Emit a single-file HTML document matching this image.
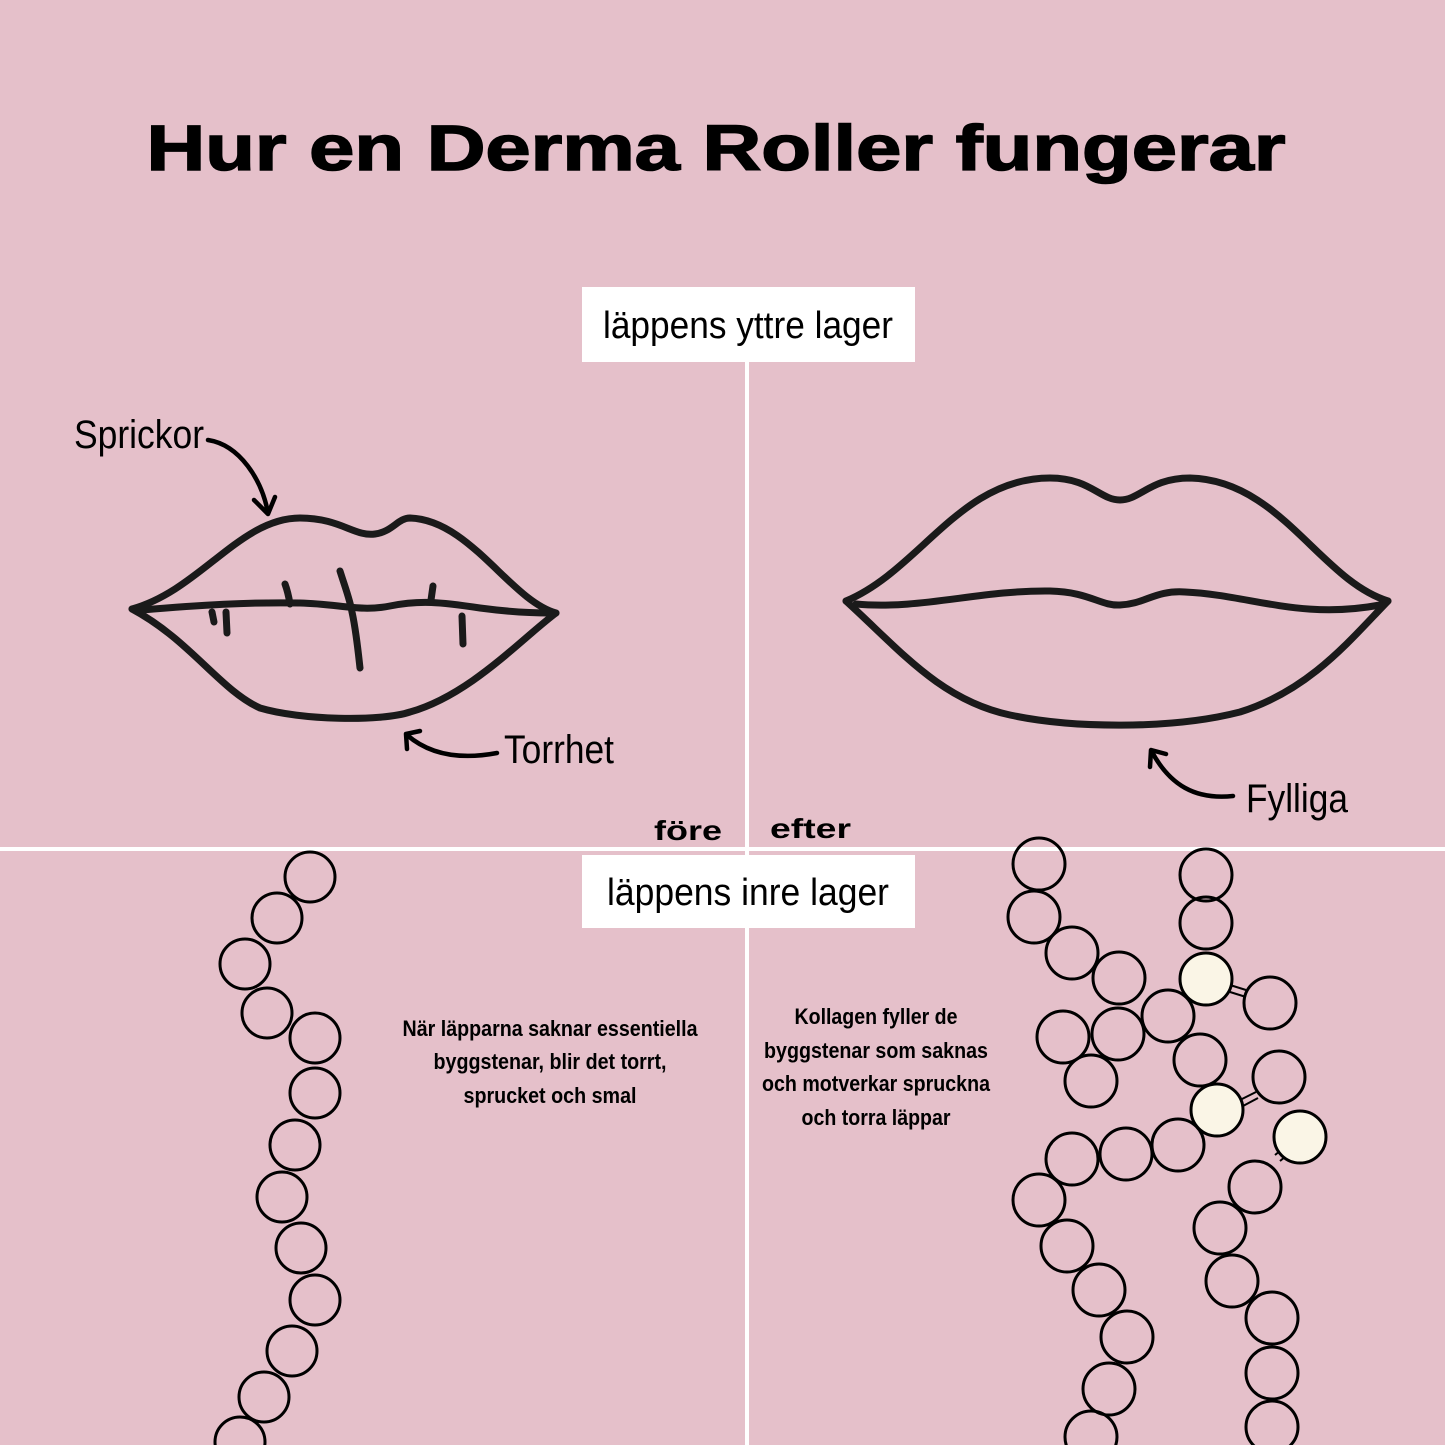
<!DOCTYPE html>
<html><head><meta charset="utf-8"><style>
html,body{margin:0;padding:0}
body{width:1445px;height:1445px;background:#e5c0ca;overflow:hidden;position:relative;font-family:"Liberation Sans",sans-serif}
svg{position:absolute;left:0;top:0}
</style></head><body>
<svg width="1445" height="1445" viewBox="0 0 1445 1445" xmlns="http://www.w3.org/2000/svg">
<rect width="1445" height="1445" fill="#e5c0ca"/>
<text x="716" y="170" text-anchor="middle" font-family="Liberation Sans" font-weight="900" font-size="64" textLength="1139" lengthAdjust="spacingAndGlyphs" fill="#000" stroke="#000" stroke-width="1.5">Hur en Derma Roller fungerar</text>
<rect x="745" y="362" width="4" height="1083" fill="#fff"/>
<rect x="0" y="847" width="1445" height="4" fill="#fff"/>
<rect x="582" y="287" width="333" height="75" fill="#fff"/>
<text x="748" y="338" text-anchor="middle" font-family="Liberation Sans" font-size="38" textLength="290" lengthAdjust="spacingAndGlyphs">läppens yttre lager</text>
<rect x="582" y="855" width="333" height="73" fill="#fff"/>
<text x="748" y="905" text-anchor="middle" font-family="Liberation Sans" font-size="38" textLength="282" lengthAdjust="spacingAndGlyphs">läppens inre lager</text>
<g font-family="Liberation Sans" font-size="40" fill="#000">
<text x="74" y="448" textLength="130" lengthAdjust="spacingAndGlyphs">Sprickor</text>
<text x="504" y="763" textLength="110" lengthAdjust="spacingAndGlyphs">Torrhet</text>
<text x="1246" y="812" textLength="102" lengthAdjust="spacingAndGlyphs">Fylliga</text>
</g>
<g font-family="Liberation Sans" font-weight="bold" font-size="28" fill="#000">
<text x="654" y="840" textLength="68" lengthAdjust="spacingAndGlyphs">före</text>
<text x="770" y="838" textLength="81" lengthAdjust="spacingAndGlyphs">efter</text>
</g>
<g font-family="Liberation Sans" font-weight="bold" font-size="22" fill="#000" text-anchor="middle" lengthAdjust="spacingAndGlyphs">
<text x="550" y="1036" textLength="295" lengthAdjust="spacingAndGlyphs">När läpparna saknar essentiella</text>
<text x="550" y="1069" textLength="233" lengthAdjust="spacingAndGlyphs">byggstenar, blir det torrt,</text>
<text x="550" y="1103" textLength="173" lengthAdjust="spacingAndGlyphs">sprucket och smal</text>
<text x="876" y="1024" textLength="163" lengthAdjust="spacingAndGlyphs">Kollagen fyller de</text>
<text x="876" y="1058" textLength="224" lengthAdjust="spacingAndGlyphs">byggstenar som saknas</text>
<text x="876" y="1091" textLength="228" lengthAdjust="spacingAndGlyphs">och motverkar spruckna</text>
<text x="876" y="1125" textLength="149" lengthAdjust="spacingAndGlyphs">och torra läppar</text>
</g>
<g fill="none" stroke="#000" stroke-width="4.5" stroke-linecap="round" stroke-linejoin="round">
<path d="M208 440 C240 445 262 480 268 513"/>
<path d="M254 500 L268 514 L275 497"/>
<path d="M497 753 C460 760 430 755 407 735"/>
<path d="M407 749 L406 734 L420 731"/>
<path d="M1233 796 C1195 800 1170 785 1152 752"/>
<path d="M1150 767 L1151 750 L1166 754"/>
</g>
<g fill="none" stroke="#1a1a1a" stroke-width="7" stroke-linecap="round" stroke-linejoin="round">
<path d="M132 609 C200 590 240 518 300 518 C340 518 355 537 375 534 C392 532 398 518 410 518 C470 520 510 600 556 613"/>
<path d="M132 609 C190 640 220 690 260 708 C300 720 380 722 410 712 C470 695 520 640 556 613"/>
<path d="M142 610 C200 605 250 602 300 603 C340 604 360 612 390 606 C420 600 440 602 480 608 C510 612 530 613 550 613"/>
<path d="M285 584 C288 592 289 598 290 604"/>
<path d="M340 571 C346 590 350 600 352 612 C356 630 358 650 360 668"/>
<path d="M433 586 L431 600"/>
<path d="M212 612 L214 622"/>
<path d="M226 612 L227 633"/>
<path d="M462 616 L463 644"/>
</g>
<g fill="none" stroke="#1a1a1a" stroke-width="7" stroke-linecap="round" stroke-linejoin="round">
<path d="M846 601 C920 570 960 478 1050 478 C1090 478 1100 500 1120 500 C1140 500 1150 478 1190 478 C1280 480 1320 580 1388 601"/>
<path d="M846 601 C900 650 940 700 1010 715 C1070 728 1170 730 1240 712 C1310 690 1350 640 1388 601"/>
<path d="M856 604 C920 610 980 590 1050 591 C1090 592 1100 606 1120 605 C1145 604 1155 590 1185 592 C1250 595 1300 620 1380 605"/>
</g>
<g fill="none" stroke="#000" stroke-width="3">
<circle cx="310" cy="877" r="25"/><circle cx="277" cy="918" r="25"/><circle cx="245" cy="964" r="25"/>
<circle cx="267" cy="1013" r="25"/><circle cx="315" cy="1038" r="25"/><circle cx="315" cy="1093" r="25"/>
<circle cx="295" cy="1145" r="25"/><circle cx="282" cy="1197" r="25"/><circle cx="301" cy="1248" r="25"/>
<circle cx="315" cy="1300" r="25"/><circle cx="292" cy="1351" r="25"/><circle cx="264" cy="1397" r="25"/>
<circle cx="240" cy="1442" r="25"/>
</g>
<g stroke="#000" stroke-width="2">
<line x1="1230" y1="985" x2="1246" y2="990"/><line x1="1230" y1="992" x2="1246" y2="997"/>
<line x1="1240" y1="1100" x2="1256" y2="1092"/><line x1="1243" y1="1106" x2="1258" y2="1098"/>
<line x1="1275" y1="1155" x2="1286" y2="1146"/><line x1="1280" y1="1161" x2="1291" y2="1152"/>
</g>
<g fill="none" stroke="#000" stroke-width="3">
<circle cx="1039" cy="864" r="26"/><circle cx="1034" cy="917" r="26"/><circle cx="1072" cy="953" r="26"/>
<circle cx="1119" cy="978" r="26"/><circle cx="1206" cy="875" r="26"/><circle cx="1206" cy="923" r="26"/>
<circle cx="1270" cy="1003" r="26"/><circle cx="1168" cy="1016" r="26"/><circle cx="1063" cy="1037" r="26"/>
<circle cx="1118" cy="1034" r="26"/><circle cx="1091" cy="1081" r="26"/><circle cx="1200" cy="1060" r="26"/>
<circle cx="1279" cy="1077" r="26"/><circle cx="1178" cy="1145" r="26"/><circle cx="1126" cy="1154" r="26"/>
<circle cx="1072" cy="1159" r="26"/><circle cx="1039" cy="1200" r="26"/><circle cx="1067" cy="1246" r="26"/>
<circle cx="1099" cy="1290" r="26"/><circle cx="1127" cy="1337" r="26"/><circle cx="1109" cy="1389" r="26"/>
<circle cx="1091" cy="1437" r="26"/><circle cx="1255" cy="1187" r="26"/><circle cx="1220" cy="1228" r="26"/>
<circle cx="1232" cy="1281" r="26"/><circle cx="1272" cy="1318" r="26"/><circle cx="1272" cy="1373" r="26"/>
<circle cx="1272" cy="1427" r="26"/>
</g>
<g fill="#faf5e6" stroke="#000" stroke-width="3">
<circle cx="1206" cy="979" r="26"/><circle cx="1217" cy="1110" r="26"/><circle cx="1300" cy="1137" r="26"/>
</g>
</svg>
</body></html>
